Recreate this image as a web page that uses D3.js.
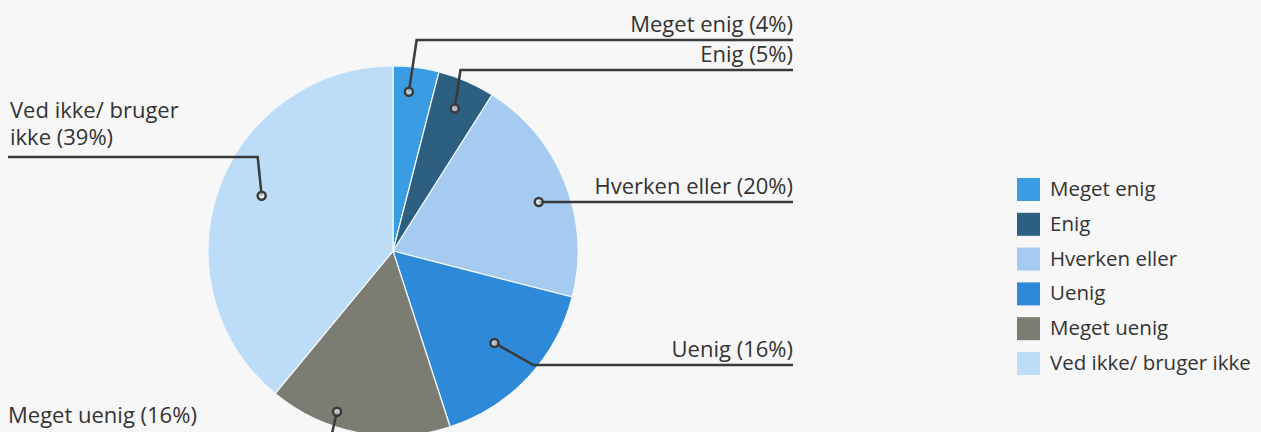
<!DOCTYPE html>
<html>
<head>
<meta charset="utf-8">
<script src="https://cdn.jsdelivr.net/npm/d3@7"></script>
<style>
  body { margin: 0; background: #f7f7f7; }
  svg { display: block; }
</style>
</head>
<body>
<div id="chart"></div>
<script>
// data
const categories = ["Meget enig", "Enig", "Hverken eller", "Uenig", "Meget uenig", "Ved ikke/ bruger ikke"];
const values = [4, 5, 20, 16, 16, 39];
const sliceLabels = ["Meget enig (4%)", "Enig (5%)", "Hverken eller (20%)", "Uenig (16%)", "Meget uenig (16%)", "Ved ikke/ bruger|ikke (39%)"];
const colors = ["#3a9de3", "#2d5f80", "#a6cbf0", "#2e8ad8", "#7c7d72", "#bddcf7"];

const width = 1261, height = 432;
const cx = 393, cy = 251, radius = 185;

// where each leader ends up (layout only); da = angle nudge in degrees
const leaders = [
  {side: "right", y: 40, k: 0.865, da: -1.5},
  {side: "right", y: 70, k: 0.84, da: 0},
  {side: "right", y: 202, k: 0.83, da: 3.3},
  {side: "right", y: 365, k: 0.74, da: -1},
  {side: "bottom", y: 446, k: 0.92, da: 8.4},
  {side: "left", y: 157, k: 0.77, da: 3}
];

const svg = d3.select("#chart").append("svg")
  .attr("width", width).attr("height", height);

const pie = d3.pie().sort(null).value(d => d);
const arcs = pie(values);
const arc = d3.arc().innerRadius(0).outerRadius(radius);

const g = svg.append("g").attr("transform", `translate(${cx},${cy})`);

g.selectAll("path.slice")
  .data(arcs)
  .enter()
  .append("path")
    .attr("class", "slice")
    .attr("d", arc)
    .attr("fill", (d, i) => colors[i])
    .attr("stroke", "#f4f8fc")
    .attr("stroke-width", 1.2);

// leader lines + labels
const lineColor = "#3a3a3a";
const font = "'Open Sans', sans-serif";
const rightX = 793 - cx, leftX = 8 - cx;

arcs.forEach((d, i) => {
  const L = leaders[i];
  const mid = (d.startAngle + d.endAngle) / 2 + L.da * Math.PI / 180;
  const ax = Math.sin(mid) * radius * L.k;
  let ay = -Math.cos(mid) * radius * L.k;
  const ly = L.y - cy;
  let pts;
  if (L.side === "right") {
    if (i === 2) {
      ay = ly;
      pts = [[ax, ay], [rightX, ly]];
    } else if (i === 3) {
      pts = [[ax, ay], [ax + 39, ly], [rightX, ly]];
    } else {
      pts = [[ax, ay], [ax + (ay - ly) * 0.15, ly], [rightX, ly]];
    }
  } else if (L.side === "left") {
    pts = [[ax, ay], [ax - 4, ly], [leftX, ly]];
  } else {
    pts = [[ax, ay], [ax - 8, ly], [leftX, ly]];
  }
  g.append("path")
    .attr("d", d3.line()(pts))
    .attr("fill", "none")
    .attr("stroke", lineColor)
    .attr("stroke-width", 2.5);
  g.append("circle")
    .attr("cx", ax).attr("cy", ay).attr("r", 4)
    .attr("fill", "rgba(255,255,255,0.6)")
    .attr("stroke", lineColor)
    .attr("stroke-width", 2.5);

  const lines = sliceLabels[i].split("|");
  const t = g.append("text")
    .attr("font-family", font)
    .attr("font-size", "22px")
    .attr("fill", "#333");
  if (L.side === "right") {
    t.attr("text-anchor", "end").attr("x", rightX).attr("y", ly - 8).text(lines[0]);
  } else if (L.side === "left") {
    lines.forEach((s, j) => {
      t.append("tspan").attr("x", leftX + 2).attr("y", ly - 39 + j * 27).text(s);
    });
  } else {
    t.attr("x", leftX).attr("y", 423 - cy).text(lines[0]);
  }
});

// legend
const legend = svg.append("g").attr("transform", "translate(1017,178)");
const row = legend.selectAll("g")
  .data(categories)
  .enter()
  .append("g")
    .attr("transform", (d, i) => `translate(0, ${i * 34.8})`);
row.append("rect")
  .attr("width", 23).attr("height", 23)
  .attr("fill", (d, i) => colors[i]);
row.append("text")
  .attr("x", 33).attr("y", 18)
  .attr("font-family", font)
  .attr("font-size", "20.5px")
  .attr("fill", "#333")
  .text(d => d);
</script>
</body>
</html>
